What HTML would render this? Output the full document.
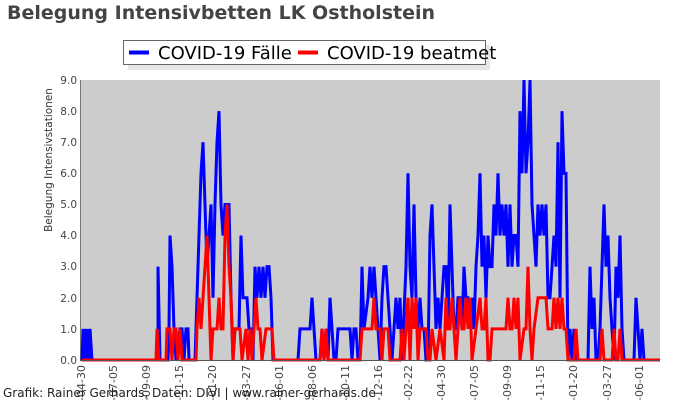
<!DOCTYPE html>
<html><head><meta charset="utf-8"><style>
html,body{margin:0;padding:0;background:#fff;width:700px;height:400px;overflow:hidden}
svg{display:block;font-family:"DejaVu Sans","Liberation Sans",sans-serif}
</style></head><body>
<svg width="700" height="400" viewBox="0 0 700 400">
<text x="7" y="19" font-size="19" font-weight="bold" fill="#444">Belegung Intensivbetten LK Ostholstein</text>
<rect x="80" y="80" width="580" height="280" fill="#cccccc"/>
<line x1="80.5" y1="80" x2="80.5" y2="360" stroke="#777" stroke-width="1"/>
<g transform="translate(0,360) scale(1,-31.11)" fill="none" stroke-linejoin="miter">
<polyline vector-effect="non-scaling-stroke" stroke="#0000ff" stroke-width="3" points="82,0 83,1 84,0 86,1 87,0 88,1 89,0 90,1 92,0 158,0 158,3 160,0 168,0 169,1 170,4 172,3 174,1 176,0 180,1 182,1 184,0 186,1 188,1 189,0 195,0 197,2 199,4 201,6 203,7 205,5 207,3 209,4 211,5 213,2 215,5 217,7 219,8 221,5 223,4 225,5 227,5 229,5 231,2 233,0 235,1 239,1 241,4 243,2 247,2 249,1 251,1 253,0 255,3 257,2 259,3 261,2 263,3 265,2 267,3 269,3 271,2 273,0 298,0 300,1 310,1 312,2 314,1 316,0 320,0 322,1 324,0 326,1 328,0 330,2 332,1 334,0 336,0 338,1 348,1 350,1 352,0 354,1 356,1 358,0 360,0 362,3 364,1 368,2 370,3 372,2 374,3 376,2 378,1 380,0 382,2 384,3 386,3 388,2 390,1 392,0 394,1 396,2 398,1 400,2 402,0 406,3 408,6 410,3 412,2 414,5 416,2 418,1 420,2 422,1 424,1 426,0 428,0 430,4 432,5 434,3 436,1 438,2 440,1 442,2 444,3 446,3 448,1 450,5 452,3 454,1 456,1 458,2 460,2 462,1 464,3 466,2 468,2 470,1 472,2 474,1 476,3 478,4 480,6 482,3 484,4 486,2 488,4 490,3 492,3 494,5 496,4 498,6 500,4 502,5 504,4 506,5 508,3 510,5 512,3 514,4 516,4 518,3 520,8 522,6 524,9 526,6 528,7 530,9 532,5 534,4 536,3 538,5 540,4 542,5 544,4 546,5 548,2 550,2 552,3 554,4 556,3 558,7 560,2 562,8 564,6 566,6 568,0 570,1 572,0 574,1 576,0 588,0 590,3 592,1 594,2 596,0 598,0 600,1 602,3 604,5 606,3 608,4 610,2 612,1 614,0 616,3 618,2 620,4 622,1 624,0 634,0 636,2 638,1 640,0 642,1 644,0 660,0"/>
<polyline vector-effect="non-scaling-stroke" stroke="#ff0000" stroke-width="3" points="82,0 156,0 157,1 159,0 166,0 167,1 170,1 172,0 174,1 176,1 178,0 180,1 182,0 196,0 197,1 199,2 201,1 203,2 205,3 207,4 209,2 211,0 213,1 217,1 219,2 221,1 223,1 225,4 227,5 229,3 231,2 233,0 235,1 240,1 242,0 246,1 248,0 250,1 252,0 254,1 256,2 258,1 260,1 262,0 266,1 272,1 274,0 320,0 322,1 324,0 326,1 328,0 360,0 362,1 372,1 374,2 376,1 380,1 382,0 384,1 388,1 390,0 400,0 402,1 404,0 406,1 408,2 410,0 412,2 414,1 416,2 418,0 420,1 426,1 428,0 430,0 432,1 436,0 440,1 444,0 446,2 448,1 450,1 452,2 454,1 456,0 458,1 460,2 462,1 464,1 466,2 468,1 470,2 472,0 476,1 480,2 482,1 484,1 486,2 488,0 490,0 492,1 506,1 508,2 510,1 512,1 514,2 516,1 518,2 520,0 524,1 526,1 528,3 530,1 532,0 534,1 538,2 546,2 548,1 552,1 554,2 556,1 558,2 560,1 562,2 564,1 566,1 568,0 574,0 576,1 578,0 600,0 602,1 604,0 612,0 614,1 616,0 618,0 620,1 622,0 660,0"/>
</g>
<line x1="80" y1="360.5" x2="660" y2="360.5" stroke="#555" stroke-width="1"/>
<g font-size="10.5" fill="#444" text-anchor="end">
<text x="77" y="84">9.0</text><text x="77" y="115">8.0</text><text x="77" y="146">7.0</text><text x="77" y="177">6.0</text><text x="77" y="208">5.0</text><text x="77" y="239">4.0</text><text x="77" y="270">3.0</text><text x="77" y="302">2.0</text><text x="77" y="333">1.0</text><text x="77" y="364">0.0</text>
</g>
<text transform="translate(52,160) rotate(-90)" font-size="10.5" fill="#333" text-anchor="middle">Belegung Intensivstationen</text>
<g font-size="11" fill="#444" text-anchor="end">
<text transform="translate(85,365) rotate(-90)">-04-30</text>
<text transform="translate(117,365) rotate(-90)">-07-05</text>
<text transform="translate(150,365) rotate(-90)">-09-09</text>
<text transform="translate(183,365) rotate(-90)">-11-15</text>
<text transform="translate(216,365) rotate(-90)">-01-20</text>
<text transform="translate(250,365) rotate(-90)">-03-27</text>
<text transform="translate(283,365) rotate(-90)">-06-01</text>
<text transform="translate(316,365) rotate(-90)">-08-06</text>
<text transform="translate(349,365) rotate(-90)">-10-11</text>
<text transform="translate(382,365) rotate(-90)">-12-16</text>
<text transform="translate(412,365) rotate(-90)">-02-22</text>
<text transform="translate(445,365) rotate(-90)">-04-30</text>
<text transform="translate(478,365) rotate(-90)">-07-05</text>
<text transform="translate(511,365) rotate(-90)">-09-09</text>
<text transform="translate(544,365) rotate(-90)">-11-15</text>
<text transform="translate(577,365) rotate(-90)">-01-20</text>
<text transform="translate(611,365) rotate(-90)">-03-27</text>
<text transform="translate(643,365) rotate(-90)">-06-01</text>
</g>
<text x="3" y="397" font-size="12" fill="#222">Grafik: Rainer Gerhards, Daten: DIVI | www.rainer-gerhards.de</text>
<rect x="128" y="45" width="362" height="25" fill="#ddd" opacity="0.7"/>
<rect x="123.5" y="40.5" width="362" height="24" fill="#fff" stroke="#666"/>
<line x1="129" y1="52.5" x2="149" y2="52.5" stroke="#0000ff" stroke-width="4"/>
<text x="158" y="59" font-size="18" fill="#000">COVID-19 Fälle</text>
<line x1="298" y1="52.5" x2="318" y2="52.5" stroke="#ff0000" stroke-width="4"/>
<text x="327" y="59" font-size="18" fill="#000">COVID-19 beatmet</text>
</svg>
</body></html>
